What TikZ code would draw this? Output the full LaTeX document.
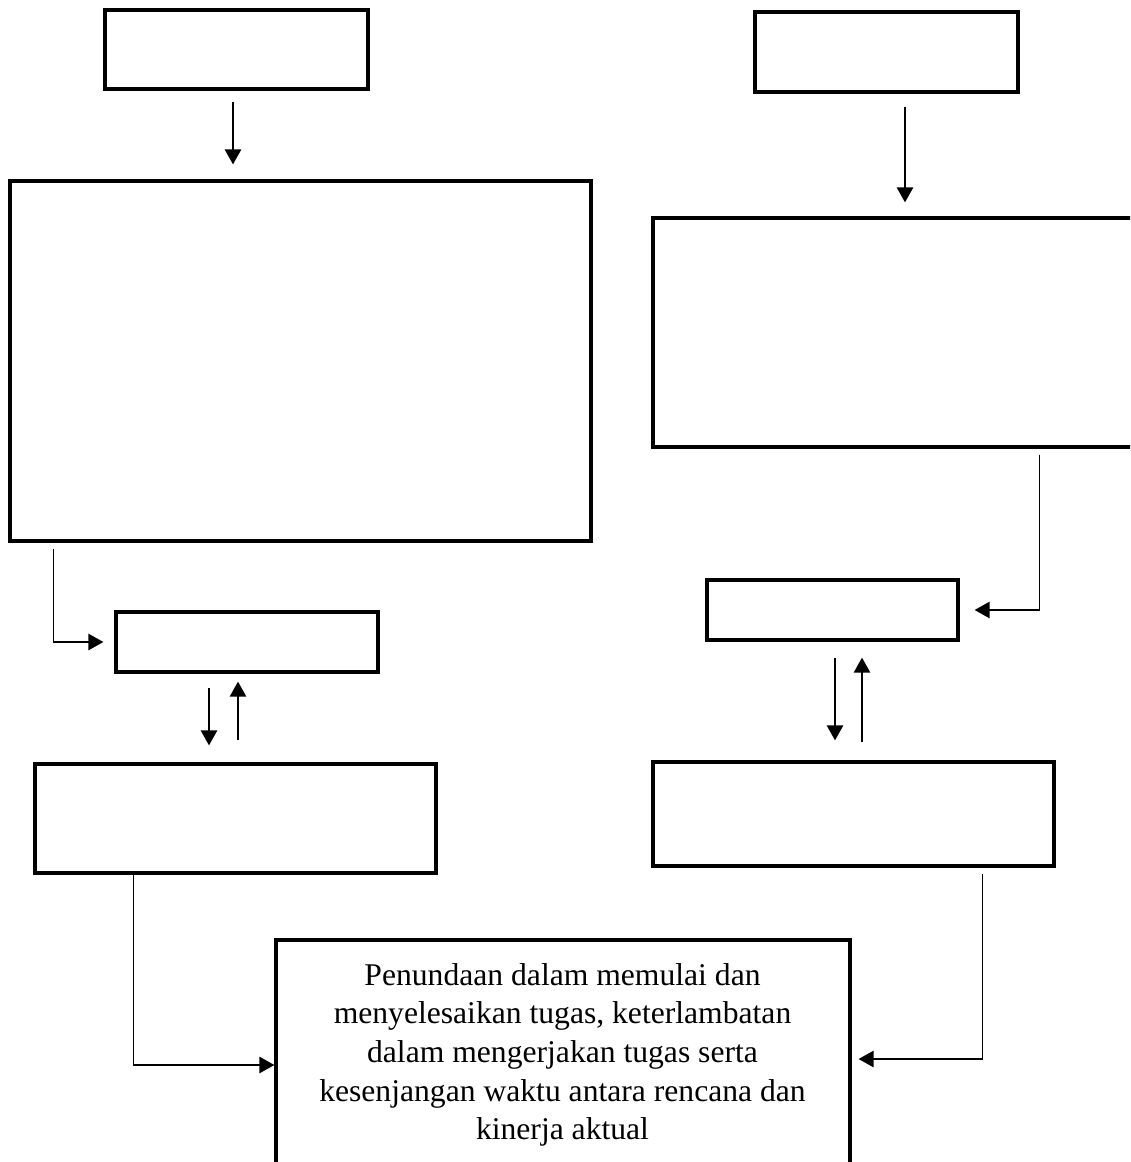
\documentclass[tikz,border=0pt]{standalone}
\usepackage{fontspec}
\setmainfont{Liberation Serif}
\usepackage{tikz}
\usetikzlibrary{positioning, arrows.meta, calc}

\begin{document}
\begin{tikzpicture}[x=0.02cm, y=-0.02cm, >={Triangle[length=3mm, width=3.2mm]},
  kotak/.style={draw, line width=1.8pt, inner sep=0pt},
  panah/.style={->, line width=1.4pt},
  garis/.style={line width=0.6pt}]
\useasboundingbox (0,0) rectangle (1130,1162);
\clip (0,0) rectangle (1130,1162);
% boxes on the left branch
\node[kotak, minimum width=5.26cm, minimum height=1.58cm] (sebabA) at (236.5,49.5) {};
\node[kotak, minimum width=11.62cm, minimum height=7.2cm] (faktorA) at (300.5,361) {};
\node[kotak, minimum width=5.24cm, minimum height=1.2cm] (prosesA) at (247,642) {};
\node[kotak, minimum width=8.02cm, minimum height=2.18cm] (responA) at (235.5,818.5) {};
% boxes on the right branch (the big one runs past the page edge)
\node[kotak, minimum width=5.26cm, minimum height=1.6cm] (sebabB) at (886.5,52) {};
\node[kotak, minimum width=9.84cm, minimum height=4.58cm] (faktorB) at (899,332.5) {};
\node[kotak, minimum width=5.02cm, minimum height=1.2cm] (prosesB) at (832.5,610) {};
\node[kotak, minimum width=8.02cm, minimum height=2.08cm] (responB) at (853.5,814) {};
% outcome box, cut off at the bottom
\node[kotak, minimum width=11.48cm, minimum height=5.2cm] (akibat) at (563,1070) {};
\node[align=center, font=\fontsize{18}{22}\selectfont] (teks) at (562.5,1055)
  {Penundaan dalam memulai dan\\
   menyelesaikan tugas, keterlambatan\\
   dalam mengerjakan tugas serta\\
   kesenjangan waktu antara rencana dan\\
   kinerja aktual};
% top arrows
\draw[panah] ([xshift=-0.07cm, yshift=-0.22cm]sebabA.south) -- ([xshift=-0.07cm, yshift=0.3cm]sebabA.south |- faktorA.north);
\draw[panah] ([xshift=0.37cm, yshift=-0.26cm]sebabB.south) -- ([xshift=0.37cm, yshift=0.28cm]sebabB.south |- faktorB.north);
% side connectors into the small boxes
\coordinate (belokA) at ([xshift=0.9cm]faktorA.south west |- prosesA.west);
\draw[garis] ([xshift=0.9cm, yshift=-0.12cm]faktorA.south west) -- (belokA);
\draw[panah] (belokA) -- ([xshift=-0.22cm]prosesA.west);
\coordinate (belokB) at ([xshift=1.6cm]prosesB.east);
\draw[garis] ([yshift=-0.12cm]faktorB.south -| belokB) -- (belokB);
\draw[panah] (belokB) -- ([xshift=0.3cm]prosesB.east);
% two-way arrows between small boxes and the boxes below
\draw[panah] ([xshift=-0.76cm, yshift=-0.28cm]prosesA.south) -- ([xshift=-0.76cm, yshift=0.34cm]prosesA.south |- responA.north);
\draw[panah] ([xshift=-0.18cm, yshift=0.44cm]prosesA.south |- responA.north) -- ([xshift=-0.18cm, yshift=-0.16cm]prosesA.south);
\draw[panah] ([xshift=0.05cm, yshift=-0.32cm]prosesB.south) -- ([xshift=0.05cm, yshift=0.4cm]prosesB.south |- responB.north);
\draw[panah] ([xshift=0.59cm, yshift=0.36cm]prosesB.south |- responB.north) -- ([xshift=0.59cm, yshift=-0.32cm]prosesB.south);
% connectors into the outcome box
\coordinate (belokC) at ([xshift=2cm]responA.south west |- akibat.west);
\draw[garis] ([xshift=2cm]responA.south west) -- ([yshift=0.1cm]belokC);
\draw[panah] ([yshift=0.1cm]belokC) -- ([yshift=0.1cm]akibat.west);
\coordinate (belokD) at ([xshift=-1.46cm]responB.south east |- akibat.east);
\draw[garis] ([xshift=-1.46cm, yshift=-0.12cm]responB.south east) -- ([yshift=0.22cm]belokD);
\draw[panah] ([yshift=0.22cm]belokD) -- ([xshift=0.14cm, yshift=0.22cm]akibat.east);
\end{tikzpicture}
\end{document}
